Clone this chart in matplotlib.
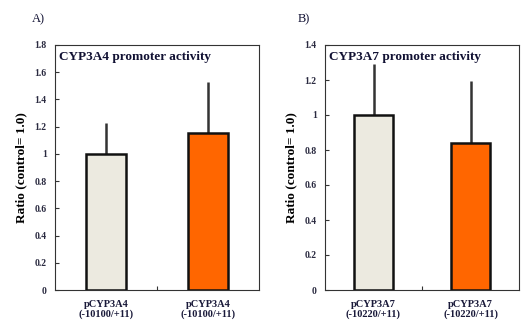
import matplotlib.pyplot as plt

plt.rcParams['font.family'] = ['Liberation Serif', 'DejaVu Serif']

categories_a = ['pCYP3A4\n(-10100/+11)', 'pCYP3A4\n(-10100/+11)']
values_a = [1.0, 1.155]
errors_a = [0.23, 0.375]

categories_b = ['pCYP3A7\n(-10220/+11)', 'pCYP3A7\n(-10220/+11)']
values_b = [1.0, 0.838]
errors_b = [0.292, 0.355]

colors = ['#ECEAE0', '#FF6600']

fig = plt.figure(figsize=(5.21, 3.25), dpi=100)


def draw_panel(rect, cats, vals, errs, ymax, title, letter, letter_x):
    ax = fig.add_axes(rect)
    pos = range(len(cats))
    ax.bar(pos, vals, width=0.4, color=colors, edgecolor='#111111',
           linewidth=1.8, zorder=2)
    ax.errorbar(pos, vals, yerr=[[0] * len(errs), errs], fmt='none',
                ecolor='#333333', elinewidth=1.8, capsize=0, zorder=1)
    ax.set_xlim(-0.5, 1.5)
    ax.set_ylim(0, ymax)
    ticks = [round(i * 0.2, 1) for i in range(int(round(ymax / 0.2)) + 1)]
    ax.set_yticks(ticks)
    ax.set_yticklabels(['%g' % t for t in ticks], fontweight='bold')
    ax.set_xticks([0.5])
    ax.set_xticklabels([''])
    ax.tick_params(axis='both', direction='in', length=3, width=0.8,
                   labelsize=7, colors='#333333', pad=6)
    ax.tick_params(axis='y', labelcolor='#2a2a40')
    for i, c in enumerate(cats):
        ax.text(i, -0.04 * ymax, c, ha='center', va='top', fontsize=7.5,
                fontweight='bold', color='#1a1a3a', linespacing=1.05)
    for s in ax.spines.values():
        s.set_color('#333333')
        s.set_linewidth(0.8)
    ax.set_ylabel('Ratio (control= 1.0)', fontsize=9.5, fontweight='bold',
                  labelpad=5)
    ax.text(0.02, 0.975, title, transform=ax.transAxes, ha='left', va='top',
            fontsize=9.5, fontweight='bold', color='#111133')
    fig.text(letter_x, 0.94, letter, fontsize=9, color='#111133',
             ha='left', va='center')
    return ax


draw_panel([55 / 521, 35 / 325, 204 / 521, 245 / 325], categories_a, values_a,
           errors_a, 1.8, 'CYP3A4 promoter activity', 'A)', 32 / 521)
draw_panel([325 / 521, 35 / 325, 194 / 521, 245 / 325], categories_b, values_b,
           errors_b, 1.4, 'CYP3A7 promoter activity', 'B)', 298 / 521)

fig.savefig('out.png', dpi=100)
